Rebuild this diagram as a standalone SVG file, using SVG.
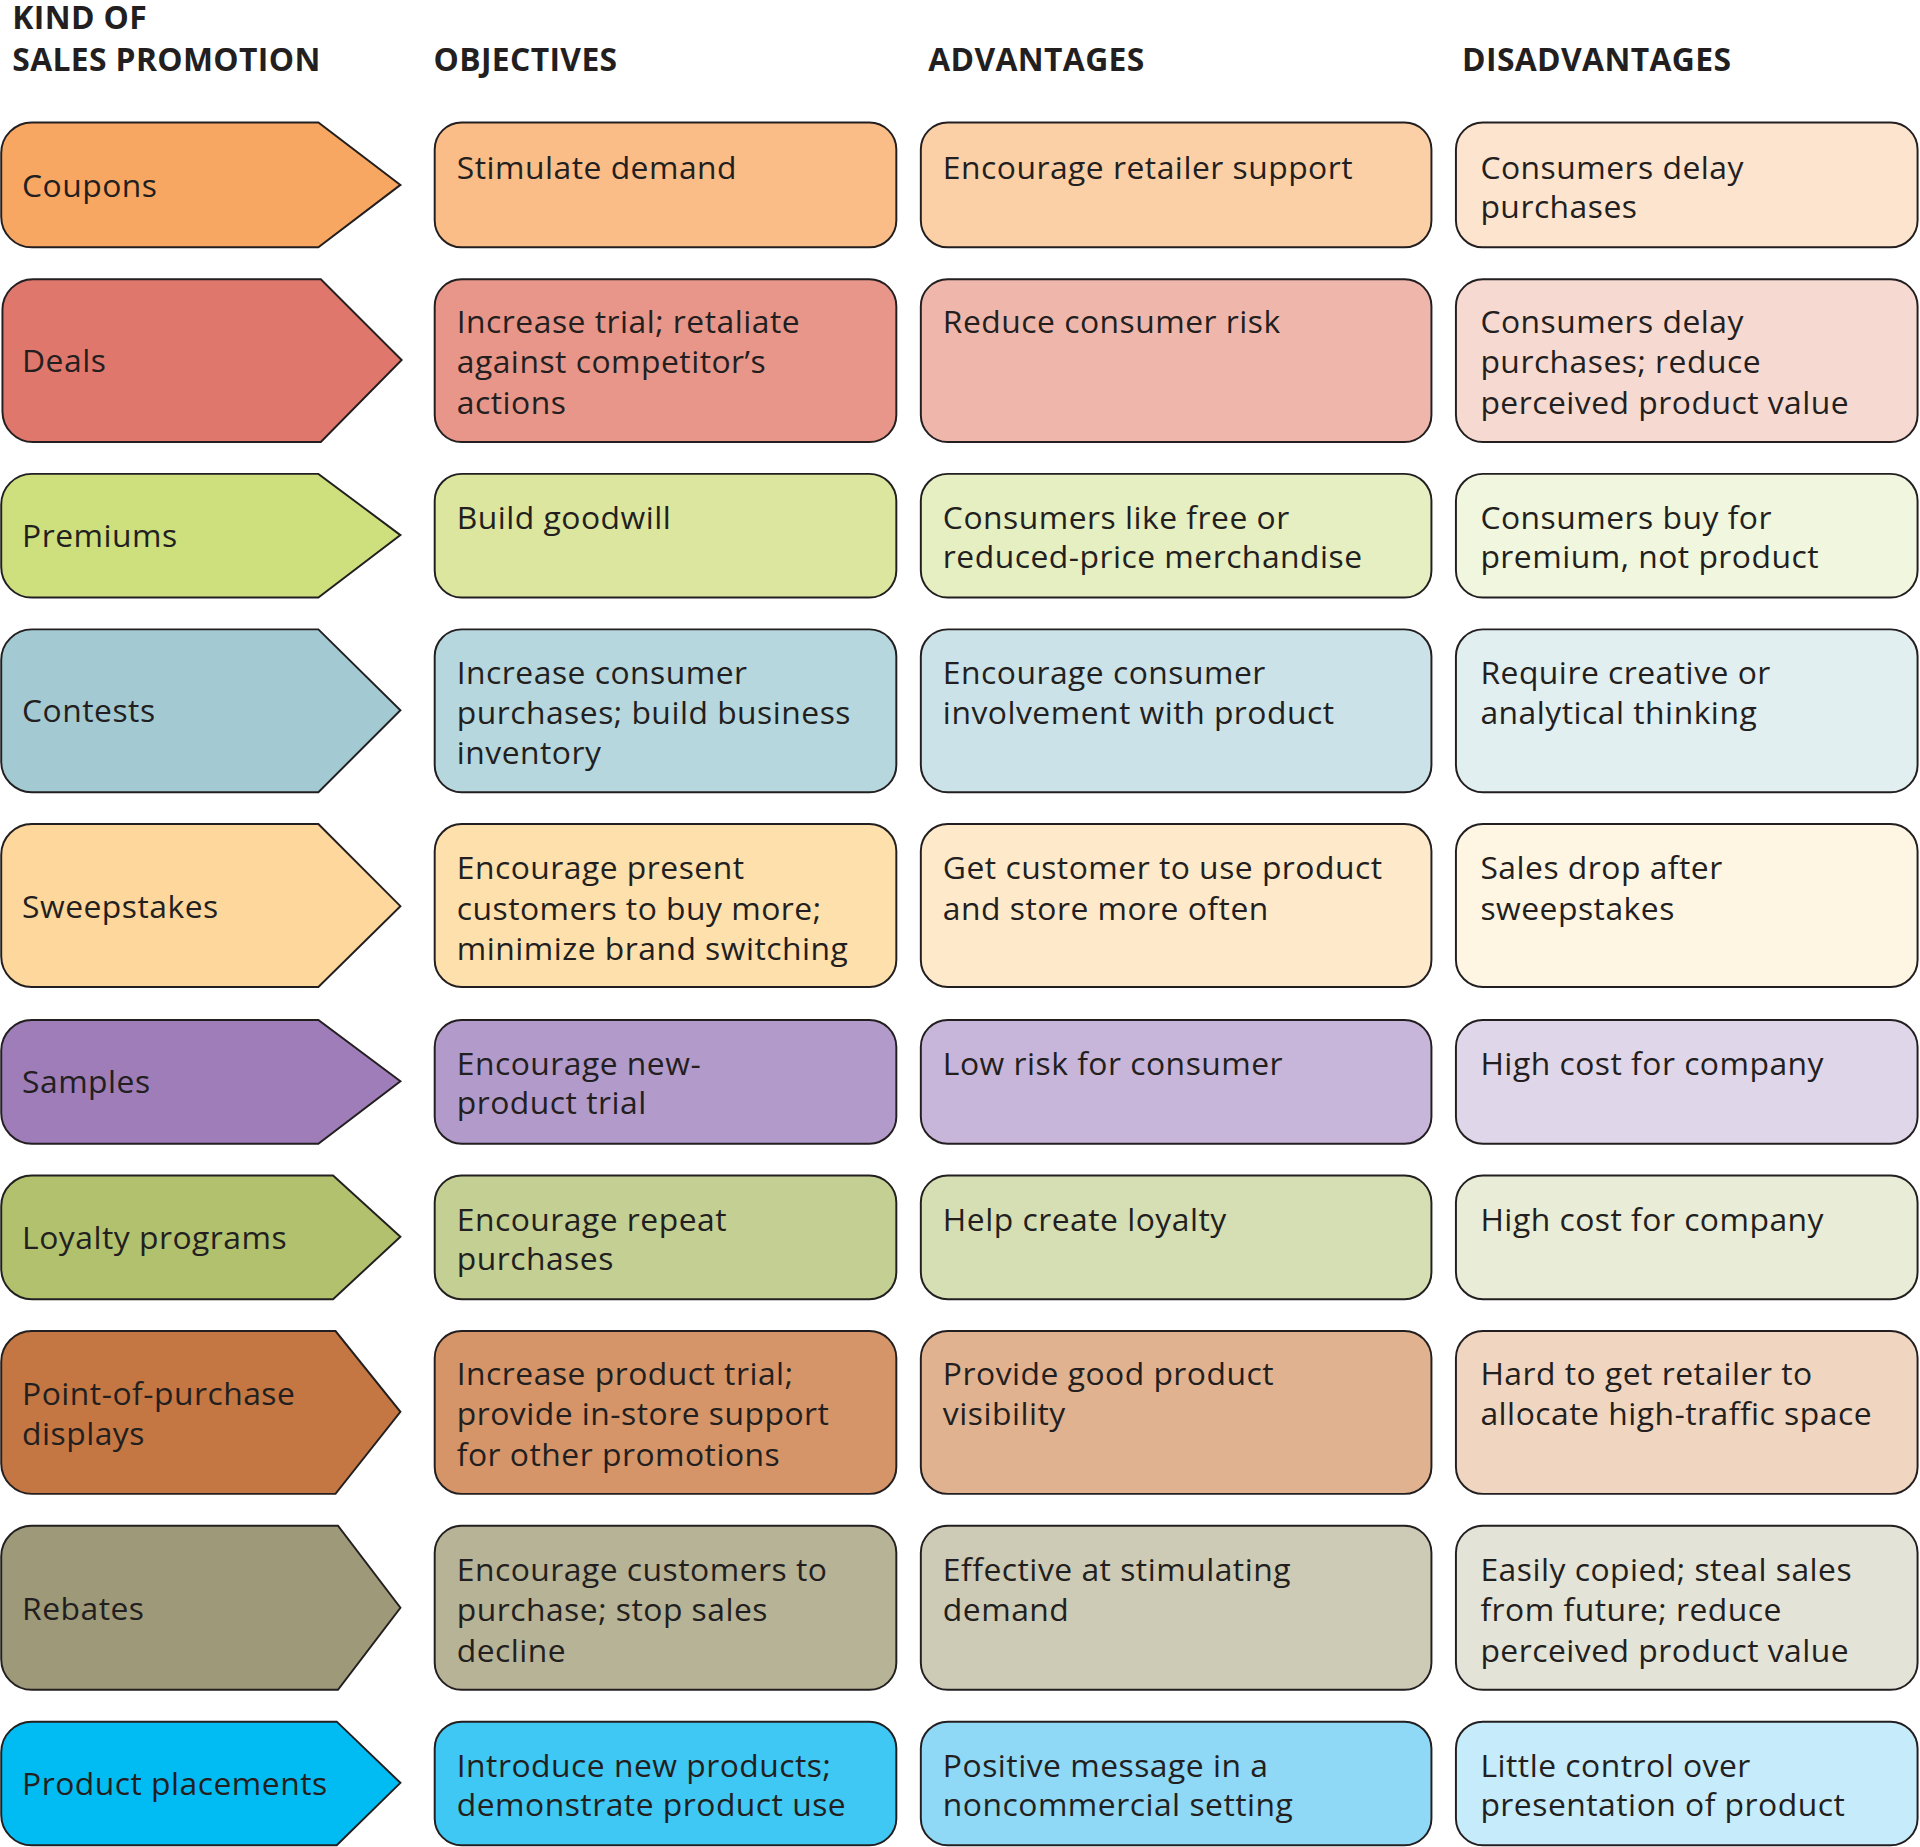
<svg xmlns="http://www.w3.org/2000/svg" width="1920" height="1847" viewBox="0 0 1920 1847">
<style>
.b{stroke:#231f20;stroke-width:1.6}
text{font-family:"Open Sans","Liberation Sans",sans-serif;font-size:26px;fill:#231f20;letter-spacing:0.4px}
.h{font-weight:bold;font-size:26px;letter-spacing:0.3px}
</style>
<rect width="1920" height="1847" fill="#fff"/>
<g transform="scale(1.2245)">
<g id="headers">
<text class="h" x="10" y="24">KIND OF</text>
<text class="h" x="10" y="58">SALES PROMOTION</text>
<text class="h" x="354" y="58">OBJECTIVES</text>
<text class="h" x="758" y="58">ADVANTAGES</text>
<text class="h" x="1194" y="58">DISADVANTAGES</text>
</g>
<g id="r1">
<path class="b" fill="#F8A762" d="M26,100H260L327,151L260,202H26A25,25 0 0 1 1,177V125A25,25 0 0 1 26,100Z"/>
<text x="18" y="161">Coupons</text>
<rect class="b" fill="#FABD87" x="355" y="100" width="377" height="102" rx="22"/>
<text x="373" y="146">Stimulate demand</text>
<rect class="b" fill="#FCD0A6" x="752" y="100" width="417" height="102" rx="22"/>
<text x="770" y="146">Encourage retailer support</text>
<rect class="b" fill="#FDE4CE" x="1189" y="100" width="377" height="102" rx="22"/>
<text x="1209" y="146">Consumers delay</text><text x="1209" y="178">purchases</text>
</g>
<g id="r2">
<path class="b" fill="#E0776C" d="M27,228H262L328,294L262,361H27A25,25 0 0 1 2,336V253A25,25 0 0 1 27,228Z"/>
<text x="18" y="304">Deals</text>
<rect class="b" fill="#E8968A" x="355" y="228" width="377" height="133" rx="22"/>
<text x="373" y="272">Increase trial; retaliate</text><text x="373" y="305">against competitor’s</text><text x="373" y="338">actions</text>
<rect class="b" fill="#EFB7AB" x="752" y="228" width="417" height="133" rx="22"/>
<text x="770" y="272">Reduce consumer risk</text>
<rect class="b" fill="#F6D9D1" x="1189" y="228" width="377" height="133" rx="22"/>
<text x="1209" y="272">Consumers delay</text><text x="1209" y="305">purchases; reduce</text><text x="1209" y="338">perceived product value</text>
</g>
<g id="r3">
<path class="b" fill="#CEDF7E" d="M26,387H260L327,437L260,488H26A25,25 0 0 1 1,463V412A25,25 0 0 1 26,387Z"/>
<text x="18" y="447">Premiums</text>
<rect class="b" fill="#DCE69F" x="355" y="387" width="377" height="101" rx="22"/>
<text x="373" y="432">Build goodwill</text>
<rect class="b" fill="#E6EFC2" x="752" y="387" width="417" height="101" rx="22"/>
<text x="770" y="432">Consumers like free or</text><text x="770" y="464">reduced-price merchandise</text>
<rect class="b" fill="#F1F6DE" x="1189" y="387" width="377" height="101" rx="22"/>
<text x="1209" y="432">Consumers buy for</text><text x="1209" y="464">premium, not product</text>
</g>
<g id="r4">
<path class="b" fill="#A3CAD3" d="M26,514H260L327,580L260,647H26A25,25 0 0 1 1,622V539A25,25 0 0 1 26,514Z"/>
<text x="18" y="590">Contests</text>
<rect class="b" fill="#B6D7DE" x="355" y="514" width="377" height="133" rx="22"/>
<text x="373" y="559">Increase consumer</text><text x="373" y="591">purchases; build business</text><text x="373" y="624">inventory</text>
<rect class="b" fill="#CBE3E8" x="752" y="514" width="417" height="133" rx="22"/>
<text x="770" y="559">Encourage consumer</text><text x="770" y="591">involvement with product</text>
<rect class="b" fill="#E2EFF1" x="1189" y="514" width="377" height="133" rx="22"/>
<text x="1209" y="559">Require creative or</text><text x="1209" y="591">analytical thinking</text>
</g>
<g id="r5">
<path class="b" fill="#FDD79B" d="M26,673H260L327,740L260,806H26A25,25 0 0 1 1,781V698A25,25 0 0 1 26,673Z"/>
<text x="18" y="750">Sweepstakes</text>
<rect class="b" fill="#FEE0AD" x="355" y="673" width="377" height="133" rx="22"/>
<text x="373" y="718">Encourage present</text><text x="373" y="751">customers to buy more;</text><text x="373" y="784">minimize brand switching</text>
<rect class="b" fill="#FEEACB" x="752" y="673" width="417" height="133" rx="22"/>
<text x="770" y="718">Get customer to use product</text><text x="770" y="751">and store more often</text>
<rect class="b" fill="#FFF5E3" x="1189" y="673" width="377" height="133" rx="22"/>
<text x="1209" y="718">Sales drop after</text><text x="1209" y="751">sweepstakes</text>
</g>
<g id="r6">
<path class="b" fill="#9E7DB8" d="M26,833H260L327,883L260,934H26A25,25 0 0 1 1,909V858A25,25 0 0 1 26,833Z"/>
<text x="18" y="893">Samples</text>
<rect class="b" fill="#B29ACB" x="355" y="833" width="377" height="101" rx="22"/>
<text x="373" y="878">Encourage new-</text><text x="373" y="910">product trial</text>
<rect class="b" fill="#C7B6D9" x="752" y="833" width="417" height="101" rx="22"/>
<text x="770" y="878">Low risk for consumer</text>
<rect class="b" fill="#E0D6EA" x="1189" y="833" width="377" height="101" rx="22"/>
<text x="1209" y="878">High cost for company</text>
</g>
<g id="r7">
<path class="b" fill="#B2C16E" d="M26,960H272L327,1010L272,1061H26A25,25 0 0 1 1,1036V985A25,25 0 0 1 26,960Z"/>
<text x="18" y="1020">Loyalty programs</text>
<rect class="b" fill="#C4CF93" x="355" y="960" width="377" height="101" rx="22"/>
<text x="373" y="1005">Encourage repeat</text><text x="373" y="1037">purchases</text>
<rect class="b" fill="#D6DFB3" x="752" y="960" width="417" height="101" rx="22"/>
<text x="770" y="1005">Help create loyalty</text>
<rect class="b" fill="#E9EDD7" x="1189" y="960" width="377" height="101" rx="22"/>
<text x="1209" y="1005">High cost for company</text>
</g>
<g id="r8">
<path class="b" fill="#C47742" d="M26,1087H274L327,1153L274,1220H26A25,25 0 0 1 1,1195V1112A25,25 0 0 1 26,1087Z"/>
<text x="18" y="1147">Point-of-purchase</text><text x="18" y="1180">displays</text>
<rect class="b" fill="#D59568" x="355" y="1087" width="377" height="133" rx="22"/>
<text x="373" y="1131">Increase product trial;</text><text x="373" y="1164">provide in-store support</text><text x="373" y="1197">for other promotions</text>
<rect class="b" fill="#E1B290" x="752" y="1087" width="417" height="133" rx="22"/>
<text x="770" y="1131">Provide good product</text><text x="770" y="1164">visibility</text>
<rect class="b" fill="#F0D6C1" x="1189" y="1087" width="377" height="133" rx="22"/>
<text x="1209" y="1131">Hard to get retailer to</text><text x="1209" y="1164">allocate high-traffic space</text>
</g>
<g id="r9">
<path class="b" fill="#9E9A79" d="M26,1246H276L327,1313L276,1380H26A25,25 0 0 1 1,1355V1271A25,25 0 0 1 26,1246Z"/>
<text x="18" y="1323">Rebates</text>
<rect class="b" fill="#B7B396" x="355" y="1246" width="377" height="134" rx="22"/>
<text x="373" y="1291">Encourage customers to</text><text x="373" y="1324">purchase; stop sales</text><text x="373" y="1357">decline</text>
<rect class="b" fill="#CDCBB5" x="752" y="1246" width="417" height="134" rx="22"/>
<text x="770" y="1291">Effective at stimulating</text><text x="770" y="1324">demand</text>
<rect class="b" fill="#E4E3D7" x="1189" y="1246" width="377" height="134" rx="22"/>
<text x="1209" y="1291">Easily copied; steal sales</text><text x="1209" y="1324">from future; reduce</text><text x="1209" y="1357">perceived product value</text>
</g>
<g id="r10">
<path class="b" fill="#00BCF2" d="M26,1406H275L327,1456L275,1507H26A25,25 0 0 1 1,1482V1431A25,25 0 0 1 26,1406Z"/>
<text x="18" y="1466">Product placements</text>
<rect class="b" fill="#3EC8F3" x="355" y="1406" width="377" height="101" rx="22"/>
<text x="373" y="1451">Introduce new products;</text><text x="373" y="1483">demonstrate product use</text>
<rect class="b" fill="#8FD8F6" x="752" y="1406" width="417" height="101" rx="22"/>
<text x="770" y="1451">Positive message in a</text><text x="770" y="1483">noncommercial setting</text>
<rect class="b" fill="#C6EBFA" x="1189" y="1406" width="377" height="101" rx="22"/>
<text x="1209" y="1451">Little control over</text><text x="1209" y="1483">presentation of product</text>
</g>
<g id="connectors"/>
</g>
</svg>
